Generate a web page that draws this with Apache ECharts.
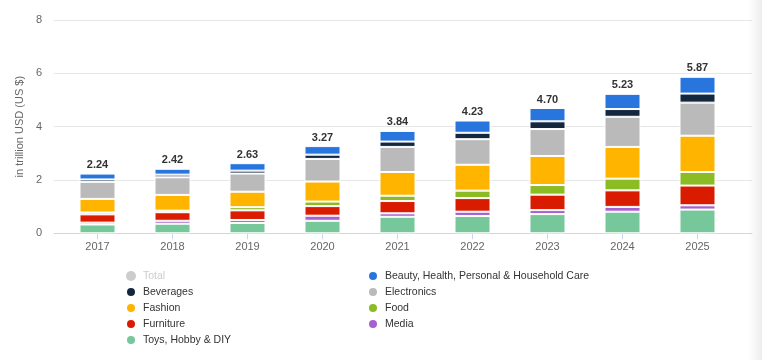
<!DOCTYPE html>
<html>
<head>
<meta charset="utf-8">
<script src="https://cdn.jsdelivr.net/npm/echarts@6/dist/echarts.min.js"></script>
<style>
html,body{margin:0;padding:0;background:#fff;}
#chart{width:762px;height:360px;}
</style>
</head>
<body>
<div id="chart"></div>
<script>
var years = ['2017','2018','2019','2020','2021','2022','2023','2024','2025'];
var totals = [2.24, 2.42, 2.63, 3.27, 3.84, 4.23, 4.70, 5.23, 5.87];
var toys = [0.33, 0.36, 0.39, 0.47, 0.62, 0.65, 0.72, 0.81, 0.89];
var media = [0.07, 0.11, 0.11, 0.19, 0.13, 0.16, 0.15, 0.18, 0.16];
var furniture = [0.31, 0.32, 0.36, 0.36, 0.46, 0.51, 0.58, 0.62, 0.74];
var food = [0.07, 0.06, 0.12, 0.17, 0.20, 0.28, 0.36, 0.44, 0.51];
var fashion = [0.51, 0.59, 0.58, 0.75, 0.89, 0.97, 1.09, 1.19, 1.36];
var electronics = [0.64, 0.66, 0.68, 0.85, 0.94, 0.96, 1.01, 1.13, 1.24];
var beverages = [0.09, 0.10, 0.11, 0.16, 0.20, 0.24, 0.29, 0.29, 0.34];
var beauty = [0.22, 0.22, 0.28, 0.32, 0.40, 0.46, 0.50, 0.57, 0.63];
var yTicks = [0, 2, 4, 6, 8];

var FONT = 'Liberation Sans';
var colors = {
  'Total': '#cccccc',
  'Beauty, Health, Personal & Household Care': '#2876dd',
  'Beverages': '#13273f',
  'Electronics': '#bababa',
  'Fashion': '#ffb400',
  'Food': '#8cbc24',
  'Furniture': '#d91c00',
  'Media': '#a660cf',
  'Toys, Hobby & DIY': '#76c799'
};

function barSeries(name, data, withLabel) {
  var s = {
    name: name,
    type: 'bar',
    stack: 'all',
    xAxisIndex: 1,
    yAxisIndex: 1,
    barWidth: 36,
    data: data,
    itemStyle: { color: colors[name], borderColor: '#ffffff', borderWidth: 1 },
    emphasis: { disabled: true }
  };
  if (withLabel) {
    s.label = {
      show: true,
      position: 'top',
      distance: 3,
      fontFamily: FONT,
      fontSize: 11,
      fontWeight: 'bold',
      color: '#333333',
      formatter: function (p) { return totals[p.dataIndex].toFixed(2); }
    };
  }
  return s;
}

var chart = echarts.init(document.getElementById('chart'), null, { renderer: 'canvas' });
var legendText = { fontFamily: FONT, fontSize: 10.5, color: '#333333', lineHeight: 14 };
chart.setOption({
  animation: false,
  textStyle: { fontFamily: FONT },
  grid: [
    { left: 54, right: 10, top: 20, bottom: 126.7 },
    { left: 60, width: 675, top: 20, bottom: 126.7 }
  ],
  xAxis: [
    { gridIndex: 0, type: 'value', min: 0, max: 1,
      axisLine: { show: true, lineStyle: { color: '#ccd6eb', width: 1 } },
      axisTick: { show: false }, axisLabel: { show: false }, splitLine: { show: false } },
    { gridIndex: 1, type: 'category', data: years,
      axisLine: { show: false },
      axisTick: { show: true, alignWithLabel: true, length: 6, lineStyle: { color: '#ccd6eb' } },
      axisLabel: { color: '#666666', fontSize: 11, fontFamily: FONT, margin: 8 } }
  ],
  yAxis: [
    { gridIndex: 0, type: 'value', min: yTicks[0], max: yTicks[yTicks.length - 1], interval: 2,
      name: 'in trillion USD (US $)', nameLocation: 'middle', nameGap: 24,
      nameTextStyle: { color: '#666666', fontSize: 11, fontFamily: FONT },
      axisLine: { show: false }, axisTick: { show: false },
      axisLabel: { color: '#666666', fontSize: 11, fontFamily: FONT, margin: 12 },
      splitLine: { lineStyle: { color: '#e6e6e6', width: 1 } } },
    { gridIndex: 1, type: 'value', min: yTicks[0], max: yTicks[yTicks.length - 1], show: false }
  ],
  legend: [
    { orient: 'vertical', left: 120, top: 264, itemWidth: 14, itemHeight: 10, itemGap: 2,
      icon: 'circle', inactiveColor: '#cccccc', textStyle: legendText,
      data: ['Total', 'Beverages', 'Fashion', 'Furniture', 'Toys, Hobby & DIY'],
      selected: { 'Total': false } },
    { orient: 'vertical', left: 362, top: 264, itemWidth: 14, itemHeight: 10, itemGap: 2,
      icon: 'circle', inactiveColor: '#cccccc', textStyle: legendText,
      data: ['Beauty, Health, Personal & Household Care', 'Electronics', 'Food', 'Media'] }
  ],
  graphic: [
    { type: 'rect', left: 748, top: 0, shape: { width: 14, height: 360 }, silent: true,
      style: { fill: new echarts.graphic.LinearGradient(0, 0, 1, 0, [
        { offset: 0, color: 'rgba(0,0,0,0)' }, { offset: 1, color: 'rgba(0,0,0,0.07)' }]) } }
  ],
  series: [
    { name: 'Total', type: 'bar', xAxisIndex: 1, yAxisIndex: 1, data: totals,
      itemStyle: { color: colors['Total'] } },
    barSeries('Toys, Hobby & DIY', toys),
    barSeries('Media', media),
    barSeries('Furniture', furniture),
    barSeries('Food', food),
    barSeries('Fashion', fashion),
    barSeries('Electronics', electronics),
    barSeries('Beverages', beverages),
    barSeries('Beauty, Health, Personal & Household Care', beauty, true)
  ]
});
</script>
</body>
</html>
